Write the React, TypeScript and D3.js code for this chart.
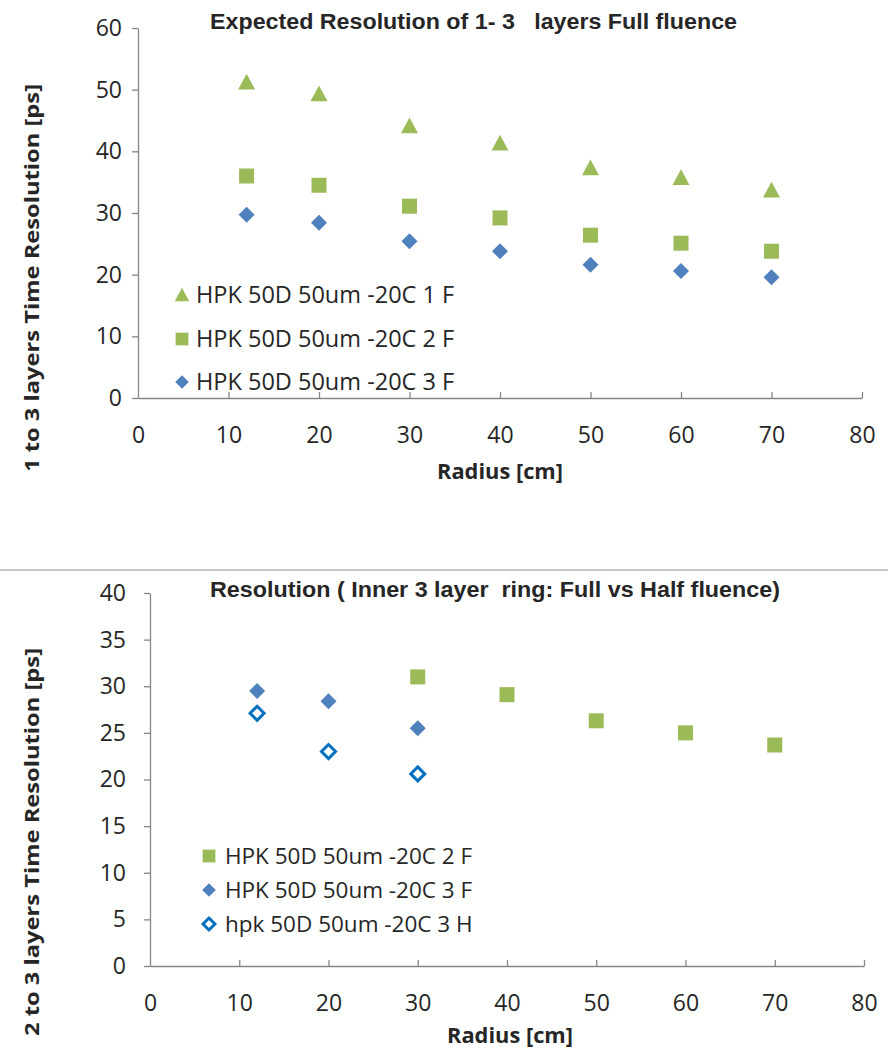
import React, { useEffect, useRef } from "react";
import * as d3 from "d3";

// Radius positions (cm)
const radiiAll = [12, 20, 30, 40, 50, 60, 70];
const radiiInner = [12, 20, 30];
const radiiOuterSquares = [30, 40, 50, 60, 70];

// Top chart: 1 to 3 layers, full fluence (ps)
const res1F = [51.2, 49.3, 44.1, 41.3, 37.3, 35.7, 33.7];
const res2F = [36.0, 34.5, 31.1, 29.2, 26.4, 25.1, 23.8];
const res3F = [29.7, 28.4, 25.4, 23.8, 21.6, 20.6, 19.6];

// Bottom chart: inner 3 layer ring, full vs half fluence (ps)
const ring2F = [31.0, 29.1, 26.3, 25.0, 23.7];
const ring3F = [29.5, 28.4, 25.5];
const ring3H = [27.1, 23.0, 20.6];

const xTicks = [0, 10, 20, 30, 40, 50, 60, 70, 80];
const yTicksTop = [0, 10, 20, 30, 40, 50, 60];
const yTicksBottom = [0, 5, 10, 15, 20, 25, 30, 35, 40];

const topTitle = "Expected Resolution of 1- 3   layers Full fluence";
const bottomTitle = "Resolution ( Inner 3 layer  ring: Full vs Half fluence)";
const topYTitle = "1 to 3 layers Time Resolution [ps]";
const bottomYTitle = "2 to 3 layers Time Resolution [ps]";
const xTitle = "Radius [cm]";

const GREEN = "#9BBB59";
const BLUE = "#4F81BD";
const HOLLOW = "#0070C0";
const AXIS = "#868686";
const TEXT = "#262626";
const FONT = "'Open Sans', 'Noto Sans', sans-serif";

type Marker = "triangle" | "square" | "diamond" | "hollow";

interface Series {
  label: string;
  x: number[];
  y: number[];
  marker: Marker;
}

interface ChartSpec {
  left: number;
  right: number;
  top: number;
  bottom: number;
  yMax: number;
  yTicks: number[];
  yLabelGap: number;
  title: string;
  titleX: number;
  titleY: number;
  titleLen: number;
  yTitle: string;
  yTitleX: number;
  yTitleY: number;
  yTitleLen: number;
  xTitleX: number;
  xTitleY: number;
  series: Series[];
  legendX: number;
  legendY: number[];
  legendTextX: number;
  legendFont: number;
}

function drawMarker(g: d3.Selection<SVGGElement, unknown, null, undefined>, m: Marker, cx: number, cy: number, scale = 1) {
  if (m === "triangle") {
    const s = 8.5 * scale;
    g.append("path")
      .attr("d", `M${cx},${cy - s}L${cx + s},${cy + s * 0.85}L${cx - s},${cy + s * 0.85}Z`)
      .attr("fill", GREEN);
  } else if (m === "square") {
    const s = 7.5 * scale;
    g.append("rect")
      .attr("x", cx - s)
      .attr("y", cy - s)
      .attr("width", 2 * s)
      .attr("height", 2 * s)
      .attr("fill", GREEN);
  } else if (m === "diamond") {
    const s = 8 * scale;
    g.append("path")
      .attr("d", `M${cx},${cy - s}L${cx + s},${cy}L${cx},${cy + s}L${cx - s},${cy}Z`)
      .attr("fill", BLUE);
  } else {
    const s = 7 * scale;
    g.append("path")
      .attr("d", `M${cx},${cy - s}L${cx + s},${cy}L${cx},${cy + s}L${cx - s},${cy}Z`)
      .attr("fill", "white")
      .attr("stroke", HOLLOW)
      .attr("stroke-width", 3);
  }
}

function drawChart(svg: d3.Selection<SVGSVGElement, unknown, null, undefined>, c: ChartSpec) {
  const x = d3.scaleLinear().domain([0, 80]).range([c.left, c.right]);
  const y = d3.scaleLinear().domain([0, c.yMax]).range([c.bottom, c.top]);
  const g = svg.append("g");

  // y axis: outward ticks on the left
  const yAxis = g
    .append("g")
    .attr("transform", `translate(${c.left},0)`)
    .call(d3.axisLeft(y).tickValues(c.yTicks).tickSize(6).tickSizeOuter(0).tickPadding(c.yLabelGap - 6));
  // x axis: inward ticks pointing up
  const xAxis = g
    .append("g")
    .attr("transform", `translate(0,${c.bottom})`)
    .call(d3.axisBottom(x).tickValues(xTicks).tickSizeInner(-6).tickSizeOuter(0).tickPadding(29));

  for (const ax of [yAxis, xAxis]) {
    ax.select(".domain").attr("stroke", AXIS).attr("stroke-width", 1.3);
    ax.selectAll(".tick line").attr("stroke", AXIS).attr("stroke-width", 1.3);
    ax.selectAll(".tick text")
      .attr("fill", TEXT)
      .attr("font-family", FONT)
      .attr("font-size", 23);
  }
  // no tick mark at the origin of the x axis
  xAxis.selectAll<SVGGElement, number>(".tick").filter((d) => d === 0).select("line").remove();

  // title
  g.append("text")
    .attr("x", c.titleX)
    .attr("y", c.titleY)
    .attr("font-family", "'Liberation Sans Narrow', 'Liberation Sans', sans-serif")
    .attr("font-weight", "bold")
    .attr("font-size", 22)
    .attr("fill", TEXT)
    .attr("textLength", c.titleLen)
    .attr("lengthAdjust", "spacingAndGlyphs")
    .style("white-space", "pre")
    .text(c.title);

  // y axis title
  g.append("text")
    .attr("transform", `translate(${c.yTitleX},${c.yTitleY}) rotate(-90)`)
    .attr("text-anchor", "middle")
    .attr("font-family", FONT)
    .attr("font-weight", "bold")
    .attr("font-size", 20)
    .attr("fill", TEXT)
    .attr("textLength", c.yTitleLen)
    .attr("lengthAdjust", "spacingAndGlyphs")
    .text(c.yTitle);

  // x axis title
  g.append("text")
    .attr("x", c.xTitleX)
    .attr("y", c.xTitleY)
    .attr("text-anchor", "middle")
    .attr("font-family", FONT)
    .attr("font-weight", "bold")
    .attr("font-size", 21)
    .attr("fill", TEXT)
    .attr("textLength", 126)
    .attr("lengthAdjust", "spacingAndGlyphs")
    .text(xTitle);

  // points
  const pts = g.append("g");
  for (const s of c.series) {
    s.x.forEach((xv, i) => drawMarker(pts, s.marker, x(xv), y(s.y[i])));
  }

  // legend
  const lg = g.append("g");
  c.series.forEach((s, i) => {
    const ly = c.legendY[i];
    drawMarker(lg, s.marker, c.legendX, ly, 0.85);
    lg.append("text")
      .attr("x", c.legendTextX)
      .attr("y", ly)
      .attr("dy", "0.36em")
      .attr("font-family", FONT)
      .attr("font-size", c.legendFont)
      .attr("fill", TEXT)
      .text(s.label);
  });
}

export default function App() {
  const ref = useRef<SVGSVGElement>(null);

  useEffect(() => {
    const svg = d3.select(ref.current!);
    svg.selectAll("*").remove();

    drawChart(svg, {
      left: 138,
      right: 862,
      top: 28,
      bottom: 398,
      yMax: 60,
      yTicks: yTicksTop,
      yLabelGap: 16,
      title: topTitle,
      titleX: 210,
      titleY: 29,
      titleLen: 527,
      yTitle: topYTitle,
      yTitleX: 39,
      yTitleY: 278,
      yTitleLen: 388,
      xTitleX: 500,
      xTitleY: 479,
      series: [
        { label: "HPK 50D 50um -20C 1 F", x: radiiAll, y: res1F, marker: "triangle" },
        { label: "HPK 50D 50um -20C 2 F", x: radiiAll, y: res2F, marker: "square" },
        { label: "HPK 50D 50um -20C 3 F", x: radiiAll, y: res3F, marker: "diamond" },
      ],
      legendX: 182,
      legendY: [295, 339, 382],
      legendTextX: 196,
      legendFont: 23.5,
    });

    drawChart(svg, {
      left: 150,
      right: 864,
      top: 593,
      bottom: 966,
      yMax: 40,
      yTicks: yTicksBottom,
      yLabelGap: 24,
      title: bottomTitle,
      titleX: 210,
      titleY: 597,
      titleLen: 570,
      yTitle: bottomYTitle,
      yTitleX: 39,
      yTitleY: 842,
      yTitleLen: 388,
      xTitleX: 510,
      xTitleY: 1043,
      series: [
        { label: "HPK 50D 50um -20C 2 F", x: radiiOuterSquares, y: ring2F, marker: "square" },
        { label: "HPK 50D 50um -20C 3 F", x: radiiInner, y: ring3F, marker: "diamond" },
        { label: "hpk 50D 50um -20C 3 H", x: radiiInner, y: ring3H, marker: "hollow" },
      ],
      legendX: 209,
      legendY: [856, 890, 924],
      legendTextX: 225,
      legendFont: 22.5,
    });

    // separator between the two panels
    svg.append("line")
      .attr("x1", 0)
      .attr("x2", 888)
      .attr("y1", 570)
      .attr("y2", 570)
      .attr("stroke", "#c8c8c8")
      .attr("stroke-width", 2);
  }, []);

  return (
    <svg
      ref={ref}
      width={888}
      height={1051}
      style={{ position: "absolute", left: 0, top: 0, background: "white" }}
    />
  );
}
